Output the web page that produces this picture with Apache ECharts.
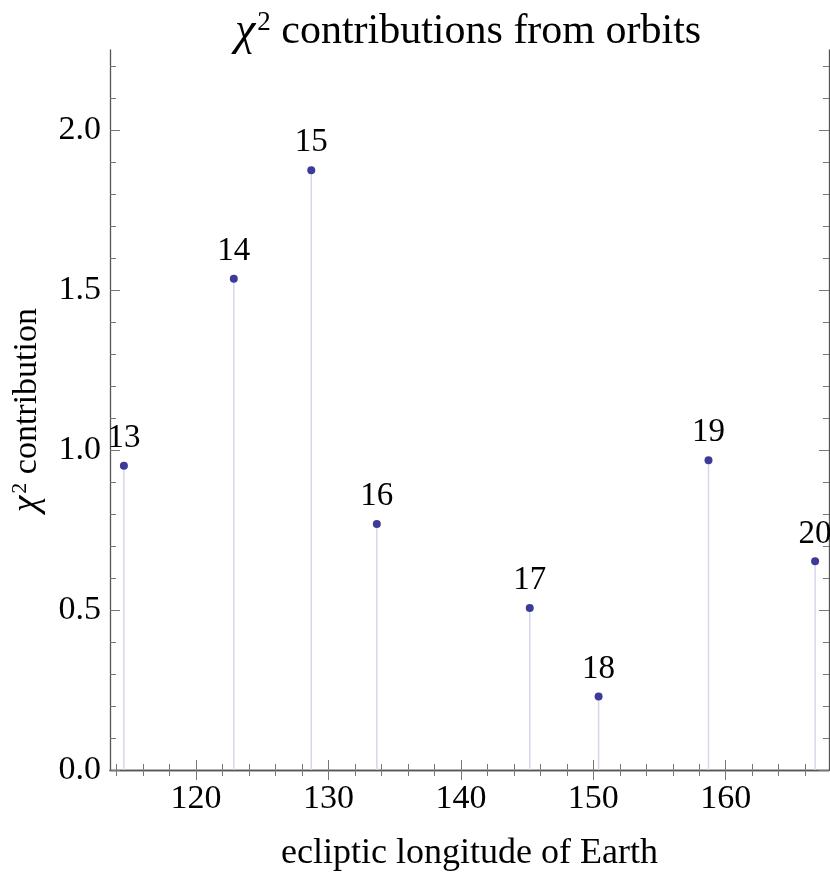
<!DOCTYPE html>
<html>
<head>
<meta charset="utf-8">
<script src="https://cdn.jsdelivr.net/npm/echarts@6/dist/echarts.min.js"></script>
<style>
  html, body { margin: 0; padding: 0; background: #fff; }
</style>
</head>
<body>
<div id="main" style="width: 830px;height:873px;"></div>
<script>
// orbit numbers shown above each point
const orbitIds = ['13', '14', '15', '16', '17', '18', '19', '20'];
// ecliptic longitude of Earth (deg)
const longitudes = [114.55, 122.85, 128.7, 133.65, 145.2, 150.4, 158.7, 166.75];
// chi^2 contribution of each orbit
const chi2 = [0.951, 1.535, 1.874, 0.769, 0.506, 0.230, 0.968, 0.652];
// tick labels
const xTicks = [120, 130, 140, 150, 160];
const yTicks = [0, 0.5, 1.0, 1.5, 2.0];

const xMin = 113.5, xMax = 167.8;
const yMin = 0, yMax = 2.25;

// minor ticks (every 2 on x, every 0.1 on y)
const xMinor = [];
for (let v = 114; v <= 166; v += 2) if (v % 10 !== 0) xMinor.push(v);
const yMinor = [];
for (let k = 1; k <= 22; k++) if (k % 5 !== 0) yMinor.push(k / 10);

const font = '"Liberation Serif", "DejaVu Serif", serif';
const axisColor = '#555';
const dotColor = '#3c3c98';
const stemColor = '#d6d6ec';

var myChart = echarts.init(document.getElementById('main'));

const gridBox = { left: 110, right: 1, top: 50, bottom: 103, containLabel: false, outerBoundsMode: 'none' };

function majorX(pos) {
  return {
    type: 'value', gridIndex: 0, position: pos, min: xMin, max: xMax,
    axisLine: { show: true, lineStyle: { color: axisColor, width: 1.3 } },
    axisTick: { show: true, inside: true, length: 10, customValues: xTicks, lineStyle: { color: '#777', width: 1 } },
    axisLabel: pos === 'bottom'
      ? { show: true, customValues: xTicks, margin: 12, color: '#000', fontFamily: font, fontSize: 34 }
      : { show: false },
    splitLine: { show: false },
    name: pos === 'bottom' ? 'ecliptic longitude of Earth' : '',
    nameLocation: 'middle', nameGap: 66, nameMoveOverlap: false,
    nameTextStyle: { color: '#000', fontFamily: font, fontSize: 36 }
  };
}
function minorX(pos) {
  return {
    type: 'value', gridIndex: 1, position: pos, min: xMin, max: xMax,
    axisLine: { show: false },
    axisTick: { show: true, inside: true, length: 6, customValues: xMinor, lineStyle: { color: '#777', width: 1 } },
    axisLabel: { show: false },
    splitLine: { show: false }
  };
}
function majorY(pos) {
  return {
    type: 'value', gridIndex: 0, position: pos, min: yMin, max: yMax,
    axisLine: { show: true, lineStyle: { color: axisColor, width: 1.3 } },
    axisTick: { show: true, inside: true, length: 10, customValues: yTicks, lineStyle: { color: '#777', width: 1 } },
    axisLabel: pos === 'left'
      ? { show: true, customValues: yTicks, margin: 9, color: '#000', fontFamily: font, fontSize: 34,
          formatter: v => Number(v).toFixed(1) }
      : { show: false },
    splitLine: { show: false },
    name: pos === 'left' ? '{chi|χ}{sup|2} contribution' : '',
    nameLocation: 'middle', nameGap: 64, nameRotate: 90, nameMoveOverlap: false,
    nameTextStyle: {
      color: '#000', fontFamily: font, fontSize: 34,
      rich: {
        chi: { fontFamily: font, fontSize: 37, fontStyle: 'italic', color: '#000' },
        sup: { fontFamily: font, fontSize: 22, color: '#000', verticalAlign: 'top', padding: [0, 0, 14, 2] }
      }
    }
  };
}
function minorY(pos) {
  return {
    type: 'value', gridIndex: 1, position: pos, min: yMin, max: yMax,
    axisLine: { show: false },
    axisTick: { show: true, inside: true, length: 6, customValues: yMinor, lineStyle: { color: '#777', width: 1 } },
    axisLabel: { show: false },
    splitLine: { show: false }
  };
}

let option = {
  animation: false,
  backgroundColor: '#fff',
  title: {
    text: '{chi|χ}{sup|2}{t| contributions from orbits}',
    left: 230,
    top: 4,
    textStyle: {
      fontWeight: 'normal',
      rich: {
        chi: { fontFamily: font, fontSize: 46, fontStyle: 'italic', fontWeight: 'normal', color: '#000' },
        sup: { fontFamily: font, fontSize: 27, fontWeight: 'normal', color: '#000', verticalAlign: 'top', padding: [0, 0, 18, 2] },
        t: { fontFamily: font, fontSize: 42, fontWeight: 'normal', color: '#000' }
      }
    }
  },
  grid: [
    Object.assign({}, gridBox),
    Object.assign({}, gridBox)
  ],
  xAxis: [majorX('bottom'), majorX('top'), minorX('bottom'), minorX('top')],
  yAxis: [majorY('left'), majorY('right'), minorY('left'), minorY('right')],
  series: [
    {
      // vertical stems from 0 to each point
      type: 'custom',
      xAxisIndex: 0, yAxisIndex: 0,
      data: longitudes.map((x, i) => [x, chi2[i]]),
      renderItem: function (params, api) {
        const top = api.coord([api.value(0), api.value(1)]);
        const base = api.coord([api.value(0), 0]);
        return {
          type: 'line',
          shape: { x1: top[0], y1: top[1], x2: base[0], y2: base[1] },
          style: { stroke: stemColor, lineWidth: 1.5 }
        };
      },
      z: 1
    },
    {
      type: 'scatter',
      xAxisIndex: 0, yAxisIndex: 0,
      data: longitudes.map((x, i) => [x, chi2[i]]),
      symbolSize: 8,
      itemStyle: { color: dotColor, opacity: 1 },
      label: {
        show: true,
        position: 'top',
        distance: 7,
        color: '#000',
        opacity: 1,
        fontFamily: font,
        fontSize: 33,
        formatter: p => orbitIds[p.dataIndex]
      },
      z: 3
    }
  ]
};

myChart.setOption(option);
window.addEventListener('resize', function () {
  myChart.resize();
});
</script>
</body>
</html>
